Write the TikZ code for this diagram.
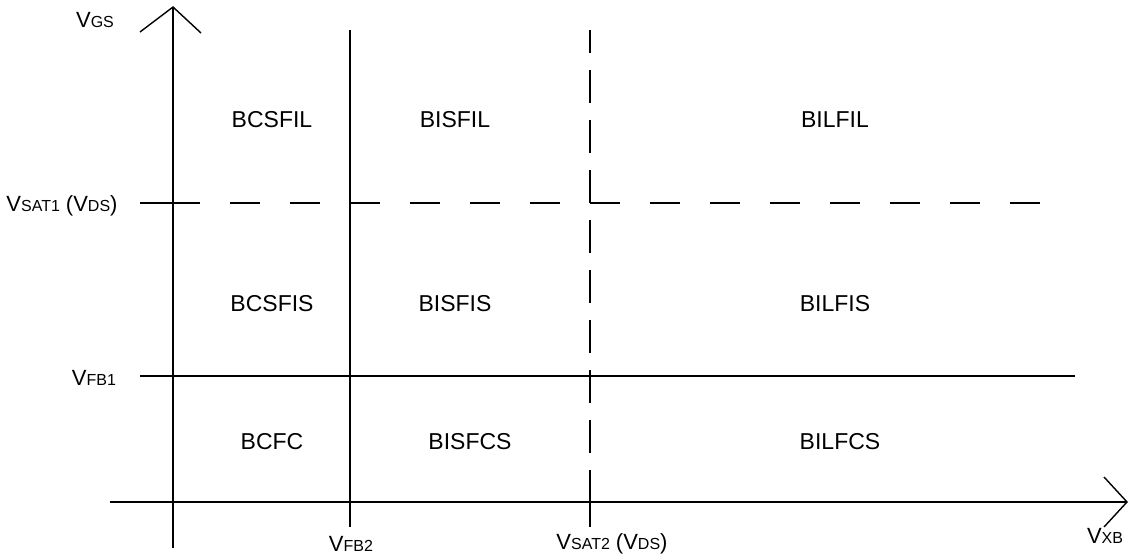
\documentclass[tikz,border=0pt]{standalone}
\usepackage{fontspec}
\setmainfont{Liberation Sans}
\newcommand{\bigV}[2]{{\fontsize{22}{24}\selectfont #1}{\fontsize{16}{18}\selectfont #2}}
\begin{document}
\begin{tikzpicture}[x=1pt,y=-1pt,
  ln/.style={line width=1.4pt,black},
  dsh/.style={line width=1.4pt,black,dash pattern=on 30pt off 30pt},
  vdsh/.style={line width=1.4pt,black,dash pattern=on 33pt off 17pt},
  region/.style={font=\fontsize{23}{26}\selectfont,inner sep=0pt},
  axlbl/.style={inner sep=0pt}]
\useasboundingbox (0,0) rectangle (1138,554);
% coordinates
\coordinate (ytop) at (173,7);
\coordinate (ybot) at (173,548);
\coordinate (xl) at (110,502);
\coordinate (xr) at (1127,502);
% axes
\draw[ln] (ybot) -- (ytop);
\draw[ln,line join=miter] (140,32) -- (ytop) -- (201,33);
\draw[ln] (xl) -- (xr);
\draw[ln,line join=miter] (1104,477) -- (xr) -- (1104,527);
% solid lines
\draw[ln] (350,30) -- (350,527);
\draw[ln] (140,376) -- (1075,376);
% dashed lines
\draw[ln] (140,203) -- (200,203);
\draw[dsh] (230,203) -- (1045,203);
\draw[vdsh,dash phase=10pt] (590,30) -- (590,455);
\draw[ln] (590,178) -- (590,203);
\draw[ln] (590,470) -- (590,527);
% region labels
\node[region] (a1) at (272,120) {BCSFIL};
\node[region] (a2) at (455,120) {BISFIL};
\node[region] (a3) at (835,120) {BILFIL};
\node[region] (b1) at (272,304) {BCSFIS};
\node[region] (b2) at (455,304) {BISFIS};
\node[region] (b3) at (835,304) {BILFIS};
\node[region] (c1) at (272,442) {BCFC};
\node[region] (c2) at (470,442) {BISFCS};
\node[region] (c3) at (840,442) {BILFCS};
% axis labels
\node[axlbl] (vgs) at (95,20) {\bigV{V}{GS}};
\node[axlbl] (vsat1) at (62,206) {\bigV{V}{SAT1}\hspace{6pt}\bigV{(V}{DS}\bigV{)}{}};
\node[axlbl] (vfb1) at (94,378) {\bigV{V}{FB1}};
\node[axlbl] (vfb2) at (351,544) {\bigV{V}{FB2}};
\node[axlbl] (vsat2) at (612,544) {\bigV{V}{SAT2}\hspace{6pt}\bigV{(V}{DS}\bigV{)}{}};
\node[axlbl] (vxb) at (1105,536) {\bigV{V}{XB}};
\end{tikzpicture}
\end{document}
